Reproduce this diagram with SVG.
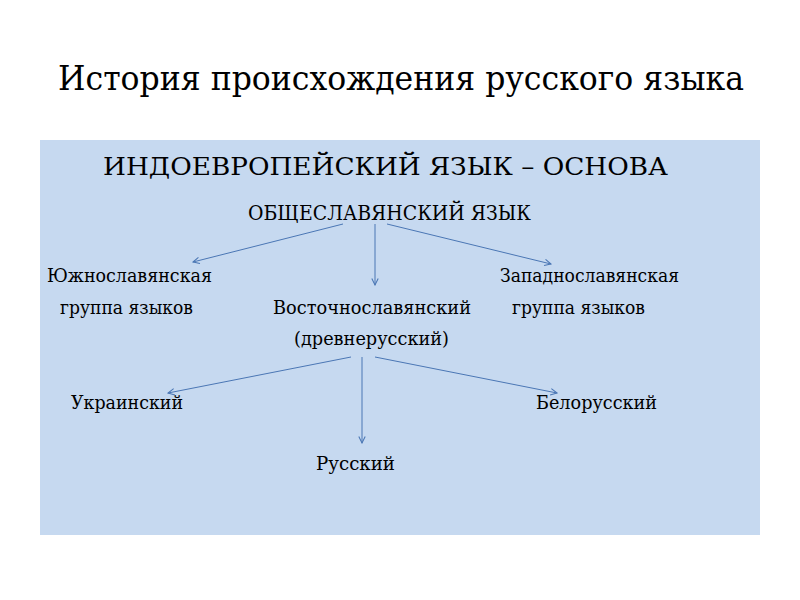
<svg xmlns="http://www.w3.org/2000/svg" width="800" height="600" viewBox="0 0 800 600">
<defs>
<style>
.t{font-size:33px}
.h{font-size:25px}
.m{font-size:20px}
.n{font-size:18px}
.c line{stroke:#4a76b4;stroke-width:1;marker-end:url(#a)}
</style>
<marker id="a" viewBox="0 0 10 10" refX="9" refY="5" markerWidth="8" markerHeight="8" markerUnits="userSpaceOnUse" orient="auto">
<path d="M1,1 L9,5 L1,9" fill="none" stroke="#4a76b4" stroke-width="1.3"/>
</marker>
</defs>
<rect width="800" height="600" fill="#fff"/>
<g font-family="'DejaVu Serif', 'Liberation Serif', serif" fill="#000">
<text class="t" x="58" y="90" textLength="686" lengthAdjust="spacingAndGlyphs">История происхождения русского языка</text>
<rect x="40" y="140" width="720" height="395" fill="#c6d9f0"/>
<g id="root"><text class="h" x="103" y="175" textLength="565" lengthAdjust="spacingAndGlyphs">ИНДОЕВРОПЕЙСКИЙ ЯЗЫК – ОСНОВА</text></g>
<g id="common"><text class="m" x="248" y="220" textLength="283" lengthAdjust="spacingAndGlyphs">ОБЩЕСЛАВЯНСКИЙ ЯЗЫК</text></g>
<g id="south"><text class="n" x="47" y="282" textLength="165" lengthAdjust="spacingAndGlyphs">Южнославянская</text><text class="n" x="60" y="314" textLength="133" lengthAdjust="spacingAndGlyphs">группа языков</text></g>
<g id="east"><text class="n" x="273" y="314" textLength="198" lengthAdjust="spacingAndGlyphs">Восточнославянский</text><text class="n" x="294" y="345" textLength="155" lengthAdjust="spacingAndGlyphs">(древнерусский)</text></g>
<g id="west"><text class="n" x="500" y="282" textLength="179" lengthAdjust="spacingAndGlyphs">Западнославянская</text><text class="n" x="512" y="314" textLength="133" lengthAdjust="spacingAndGlyphs">группа языков</text></g>
<g id="ukr"><text class="n" x="71" y="409" textLength="112" lengthAdjust="spacingAndGlyphs">Украинский</text></g>
<g id="bel"><text class="n" x="536" y="409" textLength="121" lengthAdjust="spacingAndGlyphs">Белорусский</text></g>
<g id="rus"><text class="n" x="316" y="470" textLength="79" lengthAdjust="spacingAndGlyphs">Русский</text></g>
</g>
<g class="c" id="connectors">
<line x1="343" y1="224" x2="193" y2="262"/>
<line x1="375" y1="224" x2="375" y2="285"/>
<line x1="387" y1="224" x2="551" y2="264"/>
<line x1="351" y1="357" x2="168" y2="393"/>
<line x1="362" y1="357" x2="362" y2="443"/>
<line x1="375" y1="357" x2="557" y2="393"/>
</g>
</svg>
